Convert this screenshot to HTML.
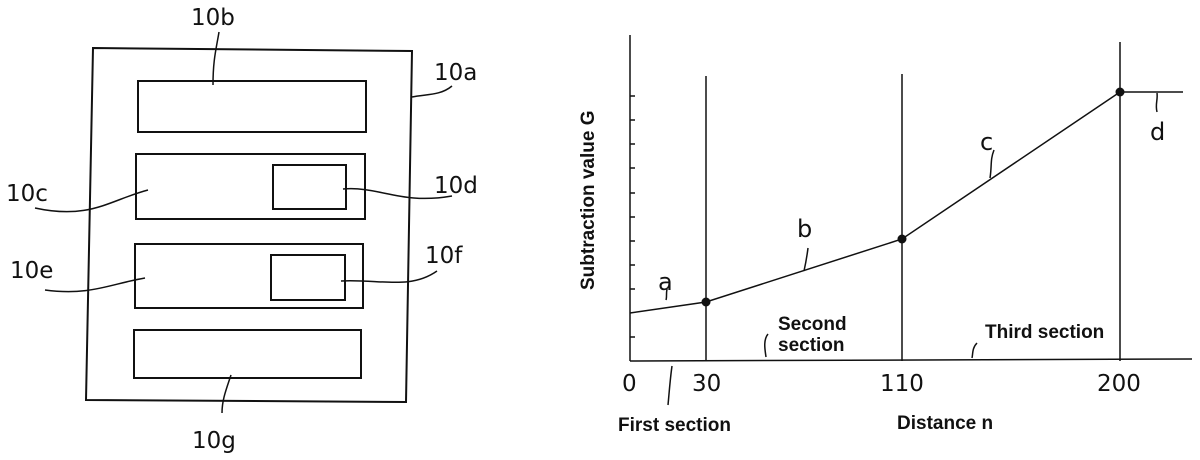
<!DOCTYPE html>
<html><head><meta charset="utf-8"><style>
html,body{margin:0;padding:0;background:#fff;}
svg{display:block;}
.n{font-family:"DejaVu Sans","Liberation Sans",sans-serif;font-size:23px;fill:#111;}
.b{font-family:"Liberation Sans",sans-serif;font-weight:bold;font-size:19px;fill:#111;}
</style></head><body>
<svg width="1200" height="460" viewBox="0 0 1200 460" xmlns="http://www.w3.org/2000/svg">
<g fill="none" stroke="#111" stroke-width="2">
<polygon points="93,48 412,51 406,402 86,400"/>
<rect x="138" y="81" width="228" height="51"/>
<rect x="136" y="154" width="229" height="65"/>
<rect x="273" y="165" width="73" height="44"/>
<rect x="135" y="244" width="228" height="64"/>
<rect x="271" y="255" width="74" height="45"/>
<rect x="134" y="330" width="227" height="48"/>
</g>
<g fill="none" stroke="#111" stroke-width="1.5">
<path d="M213,85 C213,60 216,50 219,32"/>
<path d="M412,97 C425,94 440,96 452,86"/>
<path d="M148,190 C110,200 90,220 35,208"/>
<path d="M343,189 C380,186 400,205 452,196"/>
<path d="M145,278 C110,284 90,296 45,290"/>
<path d="M341,281 C380,279 410,290 437,271"/>
<path d="M231,375 C226,390 222,400 222,413"/>
</g>
<text class="n" x="191" y="25">10b</text>
<text class="n" x="434" y="80">10a</text>
<text class="n" x="6" y="201">10c</text>
<text class="n" x="434" y="193">10d</text>
<text class="n" x="10" y="278">10e</text>
<text class="n" x="425" y="263">10f</text>
<text class="n" x="192" y="448">10g</text>

<g stroke="#111" stroke-width="1.5" fill="none">
<line x1="630" y1="35" x2="630" y2="361"/>
<line x1="630" y1="361" x2="1192" y2="359"/>
<line x1="706" y1="76" x2="706" y2="361"/>
<line x1="902" y1="74" x2="902" y2="361"/>
<line x1="1120" y1="42" x2="1120" y2="361"/>
<line x1="630" y1="96" x2="635" y2="96"/>
<line x1="630" y1="120" x2="635" y2="120"/>
<line x1="630" y1="144" x2="635" y2="144"/>
<line x1="630" y1="168" x2="635" y2="168"/>
<line x1="630" y1="193" x2="635" y2="193"/>
<line x1="630" y1="217" x2="635" y2="217"/>
<line x1="630" y1="241" x2="635" y2="241"/>
<line x1="630" y1="265" x2="635" y2="265"/>
<line x1="630" y1="289" x2="635" y2="289"/>
<line x1="630" y1="337" x2="635" y2="337"/>
<polyline points="630,313 706,302 902,239 1120,92 1183,92"/>
<path d="M667,289 C666,294 667,297 666,300"/>
<path d="M808,248 C807,256 806,262 804,271"/>
<path d="M994,150 C990,160 992,166 990,178"/>
<path d="M1157,93 C1158,100 1155,104 1157,112"/>
<path d="M672,366 C670,380 669,395 668,405"/>
<path d="M768,334 C763,340 765,350 766,357"/>
<path d="M977,343 C972,348 973,354 972,358"/>
</g>
<g fill="#111">
<circle cx="706" cy="302" r="4.5"/>
<circle cx="902" cy="239" r="4.5"/>
<circle cx="1120" cy="92" r="4.5"/>
</g>
<text class="n" x="658" y="290" style="font-size:24px">a</text>
<text class="n" x="797" y="237" style="font-size:24px">b</text>
<text class="n" x="980" y="150" style="font-size:24px">c</text>
<text class="n" x="1150" y="140" style="font-size:24px">d</text>
<text class="n" x="622" y="391" style="font-size:23px">0</text>
<text class="n" x="692" y="391" style="font-size:23px">30</text>
<text class="n" x="880" y="391" style="font-size:23px">110</text>
<text class="n" x="1097" y="391" style="font-size:23px">200</text>
<text class="b" x="778" y="330">Second</text>
<text class="b" x="778" y="351">section</text>
<text class="b" x="985" y="338">Third section</text>
<text class="b" x="618" y="431">First section</text>
<text class="b" x="897" y="429">Distance n</text>
<text class="b" transform="translate(594,290) rotate(-90)">Subtraction value G</text>
</svg>
</body></html>
